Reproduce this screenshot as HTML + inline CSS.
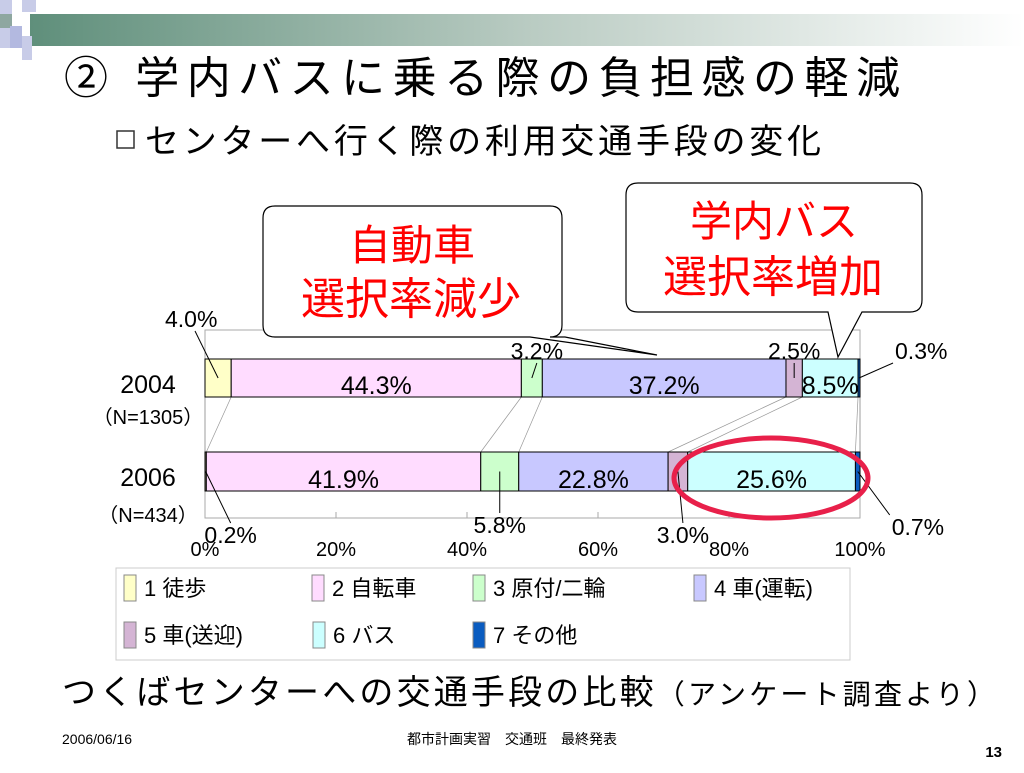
<!DOCTYPE html>
<html><head><meta charset="utf-8"><style>
html,body{margin:0;padding:0;background:#fff}
svg text{font-family:"Liberation Sans","Noto Sans CJK JP",sans-serif}
</style></head><body>
<svg id="s" width="1024" height="768" viewBox="0 0 1024 768" xmlns="http://www.w3.org/2000/svg">
<defs><linearGradient id="g" x1="0" x2="1"><stop offset="0" stop-color="#5f8f7b"/><stop offset="0.5" stop-color="#b9cbc2"/><stop offset="1" stop-color="#ffffff"/></linearGradient></defs>
<g>
<rect x="30" y="14" width="994" height="32" fill="url(#g)"/>
<rect x="0" y="0" width="12" height="48" fill="#c8cce8"/>
<rect x="22" y="0" width="14" height="12" fill="#c8cce8"/>
<rect x="0" y="14" width="12" height="14" fill="#8ea7a0"/>
<rect x="10" y="26" width="12" height="22" fill="#b3b9e0"/>
<rect x="22" y="36" width="10" height="24" fill="#c8cce8"/>
</g>
<text x="64" y="93" font-size="44" textLength="836" lengthAdjust="spacing" fill="#000">②  学内バスに乗る際の負担感の軽減</text>
<rect x="117" y="131" width="17" height="17" fill="none" stroke="#333" stroke-width="1.5"/>
<text x="145" y="153" font-size="34" textLength="676" lengthAdjust="spacing">センターへ行く際の利用交通手段の変化</text>

<rect x="205" y="330" width="655" height="188" fill="none" stroke="#aaa"/>
<g id="chart"></g>

<g>
<path d="M275,206 H550 Q562,206 562,218 V325 Q562,337 550,337 H565 L657,355 L530,337 H275 Q263,337 263,325 V218 Q263,206 275,206 Z" fill="#fff" stroke="#000" stroke-width="1.2"/>
<text x="412" y="260" font-size="42" fill="#ff0000" text-anchor="middle">自動車</text>
<text x="411" y="314" font-size="44" fill="#ff0000" text-anchor="middle">選択率減少</text>
</g>
<g>
<path d="M638,183 H910 Q922,183 922,195 V300 Q922,312 910,312 H862 L838,357 L828,312 H638 Q626,312 626,300 V195 Q626,183 638,183 Z" fill="#fff" stroke="#000" stroke-width="1.2"/>
<text x="774" y="236" font-size="42" fill="#ff0000" text-anchor="middle">学内バス</text>
<text x="773" y="292" font-size="44" fill="#ff0000" text-anchor="middle">選択率増加</text>
</g>
<ellipse cx="771" cy="478" rx="97" ry="40" fill="none" stroke="#e8204a" stroke-width="5"/>

<g>
<rect x="116" y="568" width="734" height="92" fill="#fff" stroke="#ccc"/>
<g id="leg"></g>
</g>
<text x="62" y="704" font-size="34" textLength="933" lengthAdjust="spacing">つくばセンターへの交通手段の比較<tspan font-size="28">（アンケート調査より）</tspan></text>
<text x="62" y="744" font-size="14">2006/06/16</text>
<text x="512" y="744" font-size="14" text-anchor="middle">都市計画実習　交通班　最終発表</text>
<text x="1002" y="757" font-size="15" font-weight="bold" text-anchor="end">13</text>
</svg>
<script>
const years = ["2004","2006"];
const nLabels = ["（N=1305）","（N=434）"];
const categories = ["1 徒歩","2 自転車","3 原付/二輪","4 車(運転)","5 車(送迎)","6 バス","7 その他"];
const values2004 = [4.0,44.3,3.2,37.2,2.5,8.5,0.3];
const values2006 = [0.2,41.9,5.8,22.8,3.0,25.6,0.7];
const xTicks = [0,20,40,60,80,100];
const colors = ["#ffffc8","#ffdcff","#ccffcc","#c8c8ff","#d4b4d4","#ccffff","#0a5cc0"];
const NS="http://www.w3.org/2000/svg";
const x0=205,x1=860;
const xs=v=>x0+(x1-x0)*v/100;
const rows=[{vals:values2004,y:359,h:38,ly:394,ny:424},{vals:values2006,y:452,h:39,ly:488,ny:522}];
const g=document.getElementById('chart');
function mk(t,a,p){const e=document.createElementNS(NS,t);for(const k in a)e.setAttribute(k,a[k]);(p||g).appendChild(e);return e;}
xTicks.forEach(t=>{
 const l=mk('line',{x1:xs(t),x2:xs(t),y1:512,y2:518,stroke:'#aaa'});
 
 
 const tx=mk('text',{x:xs(t),y:556,'font-size':20,'text-anchor':'middle'});
 tx.textContent=t+'%';
 
 
});
const cum=vals=>{let c=[0];vals.forEach(v=>c.push(c[c.length-1]+v));return c;};
const c1=cum(values2004),c2=cum(values2006);
for(let i=0;i<c1.length;i++){
 const l=mk('line',{x1:xs(c1[i]),y1:397,x2:xs(c2[i]),y2:452,stroke:'#999','stroke-width':0.7});
 
 
}
rows.forEach((r,ri)=>{
 const c=cum(r.vals);
 r.vals.forEach((v,i)=>{
  const b=mk('rect',{x:xs(c[i]),y:r.y,width:xs(c[i+1])-xs(c[i]),height:r.h,fill:colors[i],stroke:'#000','stroke-width':1});
  
  
  if(v>=8){
   const t=mk('text',{x:(xs(c[i])+xs(c[i+1]))/2,y:r.ly,'font-size':25,'text-anchor':'middle'});
   t.textContent=v.toFixed(1)+'%';
   
   
  }
 });
 const yl=mk('text',{x:148,y:r.y+34,'font-size':25,'text-anchor':'middle'});
 yl.textContent=years[ri];
 
 
 const nl=mk('text',{x:148,y:r.ny,'font-size':20,'text-anchor':'middle'});
 nl.textContent=nLabels[ri];
 
 
});
const small=[
 [0,0,-22,-42,'start'],[0,2,5,-18,'middle'],[0,4,0,-18,'middle'],[0,6,36,-18,'start'],
 [1,0,25,52,'middle'],[1,2,0,42,'middle'],[1,4,5,52,'middle'],[1,6,34,44,'start']];
small.forEach(([ri,i,dx,dy,anc])=>{
 const r=rows[ri],c=ri?c2:c1,v=r.vals[i];
 const cx=(xs(c[i])+xs(c[i+1]))/2, cy=r.y+r.h/2;
 let tx=cx+dx, ty=(dy<0?r.y:r.y+r.h)+dy+ (dy<0?18:0);
 if(ri===0&&i===0){tx=165;ty=327;}
 const t=mk('text',{x:tx,y:ty,'font-size':23,'text-anchor':anc});
 t.textContent=v.toFixed(1)+'%';
 
 
 const ly=dy<0?ty+4:ty-20;
 const lx=anc==='start'?tx+(ri===0&&i===0?30:-2):tx;
 const l=mk('line',{x1:cx,y1:cy,x2:lx,y2:ly,stroke:'#000','stroke-width':1});
 
 
});
const lg=document.getElementById('leg');
const lx=[124,312,473,694,124,313,473],lyy=[575,575,575,575,622,622,622];
categories.forEach((c,i)=>{
 const s=mk('rect',{x:lx[i],y:lyy[i],width:12,height:26,fill:colors[i],stroke:'#888'},lg);
 
 
 const t=mk('text',{x:lx[i]+20,y:lyy[i]+21,'font-size':22},lg);
 t.textContent=c;
 
 
});
</script>
</body></html>
